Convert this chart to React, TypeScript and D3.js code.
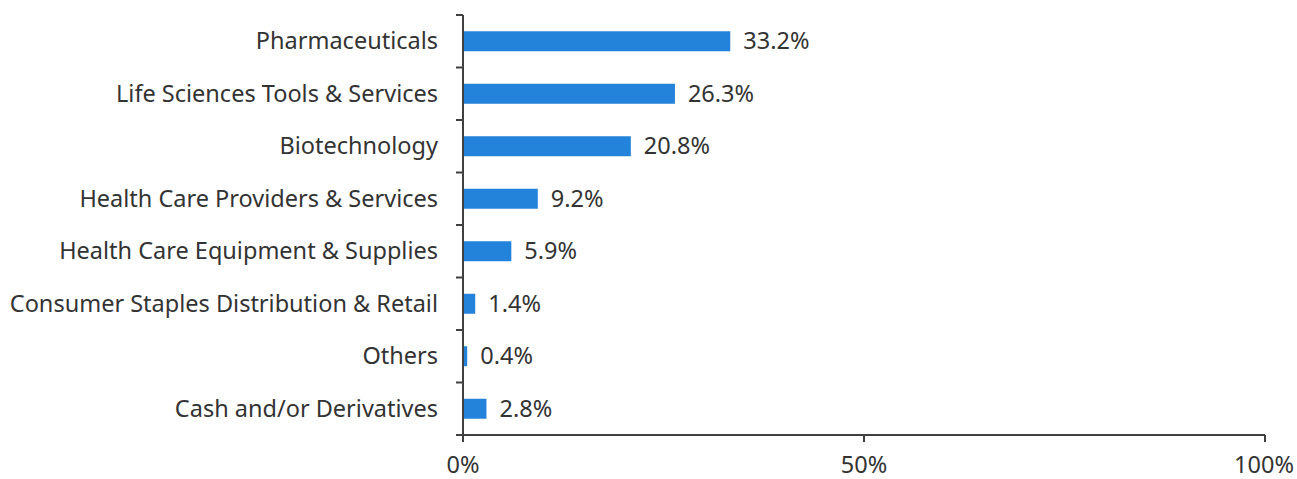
import React from "react";
import * as d3 from "d3";

const categories = [
  "Pharmaceuticals",
  "Life Sciences Tools & Services",
  "Biotechnology",
  "Health Care Providers & Services",
  "Health Care Equipment & Supplies",
  "Consumer Staples Distribution & Retail",
  "Others",
  "Cash and/or Derivatives",
];
const values = [33.2, 26.3, 20.8, 9.2, 5.9, 1.4, 0.4, 2.8];
const xTicks = [0, 50, 100];

export default function App() {
  const W = 1297, H = 479;
  const x0 = 463, x1 = 1265, yTop = 15, yBot = 435;
  const x = d3.scaleLinear().domain([0, 100]).range([x0, x1]);
  const y = d3.scaleBand<string>().domain(categories).range([yTop, yBot]);
  const bw = y.bandwidth();
  const barH = 20;
  const axisColor = "#404040";
  const textColor = "#333333";
  const font = "'Noto Sans', sans-serif";
  const fs = 23.5;
  const boundaries = d3.range(categories.length + 1).map((i) => yTop + i * bw);
  return (
    <svg width={W} height={H} style={{ position: "absolute", left: 0, top: 0, background: "#fff" }}>
      {categories.map((c, i) => {
        const yc = (y(c) as number) + bw / 2;
        return (
          <g key={c}>
            <rect x={x(0) + 1} y={yc - barH / 2} width={x(values[i]) - x(0)} height={barH} fill="#2382d9" />
            <text x={438} y={yc} dy="0.35em" textAnchor="end" fontFamily={font} fontSize={fs} fill={textColor}>
              {c}
            </text>
            <text x={x(values[i]) + 14} y={yc} dy="0.35em" textAnchor="start" fontFamily={font} fontSize={fs} fill={textColor}>
              {values[i].toFixed(1)}%
            </text>
          </g>
        );
      })}
      <line x1={x0} x2={x0} y1={yTop} y2={yBot} stroke={axisColor} strokeWidth={2} />
      {boundaries.map((b, i) => (
        <line key={i} x1={x0 - 7} x2={x0} y1={b} y2={b} stroke={axisColor} strokeWidth={2} />
      ))}
      <line x1={x0} x2={x1} y1={yBot} y2={yBot} stroke={axisColor} strokeWidth={2} />
      {xTicks.map((t) => (
        <g key={t}>
          <line x1={x(t)} x2={x(t)} y1={yBot} y2={yBot + 7} stroke={axisColor} strokeWidth={2} />
          <text x={t === 100 ? Math.min(x(t), W - 33) : x(t)} y={473} textAnchor="middle" fontFamily={font} fontSize={fs} fill={textColor}>
            {t}%
          </text>
        </g>
      ))}
    </svg>
  );
}
